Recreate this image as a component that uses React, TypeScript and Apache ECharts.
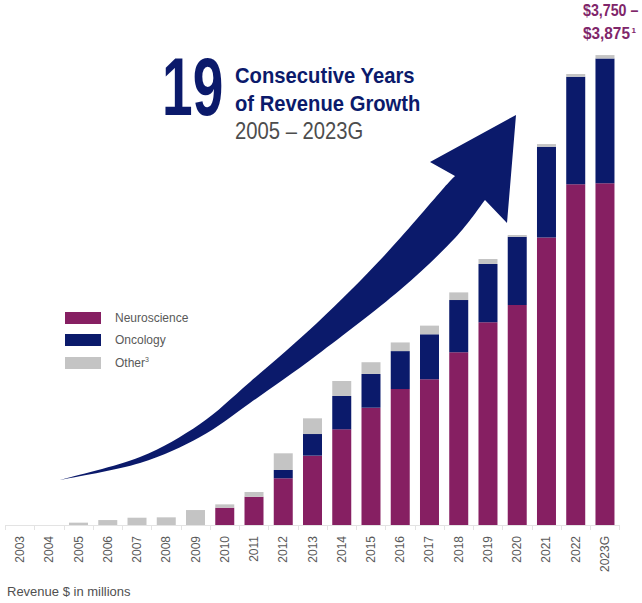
import React, { useEffect, useRef } from "react";
import * as echarts from "echarts";

const years = ["2003","2004","2005","2006","2007","2008","2009","2010","2011","2012","2013","2014","2015","2016","2017","2018","2019","2020","2021","2022","2023G"];
const neuroscience = [0,0,0,0,0,0,0,140,229,378,561,774,949,1100,1179,1397,1640,1780,2327,2756,2764];
const oncology = [0,0,0,0,0,0,0,0,0,67,175,270,273,307,364,423,472,553,733,871,1011];
const other = [0,0,19,40,59,62,121,27,38,135,127,121,95,70,70,62,40,14,22,22,27];
const seriesNames = ["Neuroscience", "Oncology", "Other"];

const NAVY = "#0B1A6B";
const PURPLE = "#861F62";
const GRAY = "#C4C4C4";
const LABEL_PURPLE = "#80266A";

type P = [number, number];
function curve(pts: P[]): string {
  let d = "";
  for (let i = 0; i < pts.length - 1; i++) {
    const p0 = pts[i - 1] || pts[i];
    const p1 = pts[i];
    const p2 = pts[i + 1];
    const p3 = pts[i + 2] || p2;
    const c1x = p1[0] + (p2[0] - p0[0]) / 6;
    const c1y = p1[1] + (p2[1] - p0[1]) / 6;
    const c2x = p2[0] - (p3[0] - p1[0]) / 6;
    const c2y = p2[1] - (p3[1] - p1[1]) / 6;
    d += ` C${c1x.toFixed(1)} ${c1y.toFixed(1)} ${c2x.toFixed(1)} ${c2y.toFixed(1)} ${p2[0]} ${p2[1]}`;
  }
  return d;
}

const upperEdge: P[] = [[60,480],[140,457],[200,424],[250,382],[317,323],[383,257],[442,190],[455,176]];
const lowerEdge: P[] = [[485,200],[455,238],[400,290],[317,355],[250,403],[200,437],[140,463],[60,480]];
const arrowD = "M60 480" + curve(upperEdge) + " L430 162 L516 115 L507 223 L485 200" + curve(lowerEdge) + " Z";

echarts.graphic.registerShape("growthArrow", echarts.graphic.extendPath(arrowD, {}));

export default function App() {
  const ref = useRef<HTMLDivElement>(null);
  useEffect(() => {
    if (!ref.current) return;
    const chart = echarts.init(ref.current, undefined, { renderer: "svg" });
    const font = "Liberation Sans";
    chart.setOption({
      animation: false,
      backgroundColor: "#FFFFFF",
      textStyle: { fontFamily: font },
      grid: { left: 5.4, right: 22.4, top: 30.6, bottom: 78, containLabel: false },
      legend: {
        orient: "vertical",
        left: 60,
        top: 307,
        itemWidth: 36,
        itemHeight: 12,
        itemGap: 10,
        icon: "rect",
        selectedMode: false,
        data: seriesNames,
        formatter: (name: string) => (name === "Other" ? "{n|Other}{s|3}" : name),
        textStyle: {
          fontFamily: font,
          fontSize: 12,
          color: "#595959",
          padding: [0, 0, 0, 9],
          rich: {
            n: { fontFamily: font, fontSize: 12, color: "#595959", lineHeight: 14 },
            s: { fontFamily: font, fontSize: 7, color: "#595959", verticalAlign: "top", lineHeight: 14 },
          },
        },
      },
      xAxis: {
        type: "category",
        data: years,
        axisLine: { show: true, lineStyle: { color: "#E3E3E3", width: 1 } },
        axisTick: { show: true, length: 5, lineStyle: { color: "#E3E3E3" } },
        axisLabel: { rotate: 90, fontSize: 12, color: "#595959", margin: 11, fontFamily: font, interval: 0 },
      },
      yAxis: { type: "value", min: 0, max: 4000, show: false, splitLine: { show: false } },
      series: [
        { name: seriesNames[0], type: "bar", stack: "total", data: neuroscience, barWidth: 19, itemStyle: { color: PURPLE }, emphasis: { disabled: true } },
        { name: seriesNames[1], type: "bar", stack: "total", data: oncology, barWidth: 19, itemStyle: { color: NAVY }, emphasis: { disabled: true } },
        { name: seriesNames[2], type: "bar", stack: "total", data: other, barWidth: 19, itemStyle: { color: GRAY }, emphasis: { disabled: true } },
      ],
      graphic: [
        { type: "growthArrow", x: 0, y: 0, z: 5, style: { fill: NAVY } },
        { type: "text", x: 162, y: 86.5, scaleX: 0.68, style: { text: "19", fontFamily: font, fontWeight: "bold", fontSize: 81, fill: NAVY, align: "left", verticalAlign: "middle" } },
        { type: "text", x: 235, y: 75, scaleX: 0.92, style: { text: "Consecutive Years", fontFamily: font, fontWeight: "bold", fontSize: 22, fill: NAVY, align: "left", verticalAlign: "middle" } },
        { type: "text", x: 235, y: 103.5, scaleX: 0.92, style: { text: "of Revenue Growth", fontFamily: font, fontWeight: "bold", fontSize: 22, fill: NAVY, align: "left", verticalAlign: "middle" } },
        { type: "text", x: 235, y: 131.5, scaleX: 0.88, style: { text: "2005 – 2023G", fontFamily: font, fontSize: 23, fill: "#4D4D4D", align: "left", verticalAlign: "middle" } },
        { type: "text", x: 583, y: 10.5, scaleX: 0.89, style: { text: "$3,750 –", fontFamily: font, fontWeight: "bold", fontSize: 16, fill: LABEL_PURPLE, align: "left", verticalAlign: "middle" } },
        { type: "text", x: 583, y: 33, scaleX: 0.96, style: { text: "$3,875", fontFamily: font, fontWeight: "bold", fontSize: 16, fill: LABEL_PURPLE, align: "left", verticalAlign: "middle" } },
        { type: "text", x: 631.5, y: 30, style: { text: "1", fontFamily: font, fontWeight: "bold", fontSize: 8, fill: LABEL_PURPLE, align: "left", verticalAlign: "middle" } },
        { type: "text", x: 7, y: 591, style: { text: "Revenue $ in millions", fontFamily: font, fontSize: 13, fill: "#505050", align: "left", verticalAlign: "middle" } },
      ],
    });
    return () => chart.dispose();
  }, []);
  return <div ref={ref} style={{ position: "absolute", left: 0, top: 0, width: 642, height: 603 }} />;
}
